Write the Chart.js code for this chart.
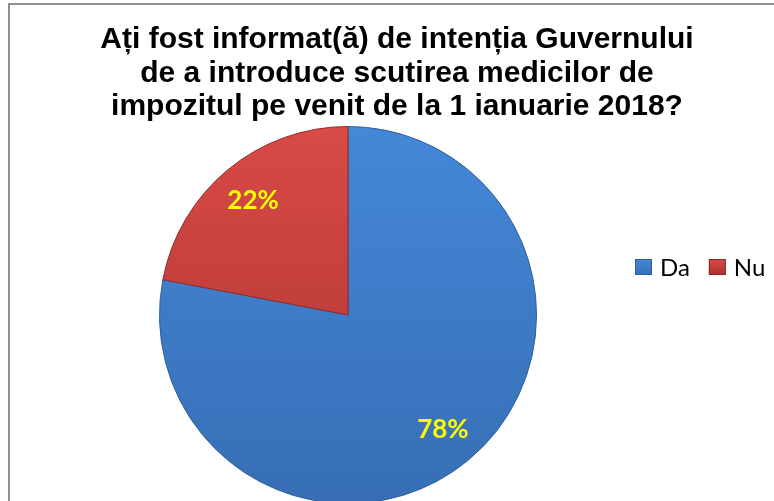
<!DOCTYPE html>
<html>
<head>
<meta charset="utf-8">
<script src="https://cdn.jsdelivr.net/npm/chart.js@4.4.1/dist/chart.umd.min.js"></script>
<style>
  html, body { margin: 0; padding: 0; width: 774px; height: 501px; overflow: hidden; background: #fff; }
  #frame { position: absolute; left: 8px; top: 3px; width: 780px; height: 520px;
           border-top: 2px solid #8e8e8e; border-left: 2px solid #8e8e8e; }
  #title { position: absolute; left: 20px; width: 754px; top: 21px; text-align: center;
           font-family: "Liberation Sans", Arial, sans-serif; font-weight: bold; font-size: 30px;
           line-height: 33.5px; color: #000; z-index: 2; }
  #wrap { position: absolute; left: 0; top: 0; width: 774px; height: 510px; }
</style>
</head>
<body>
<div id="frame"></div>
<div id="title"></div>
<div id="wrap"><canvas id="c" width="774" height="510"></canvas></div>
<script>
const titleLines = ["Ați fost informat(ă) de intenția Guvernului", "de a introduce scutirea medicilor de", "impozitul pe venit de la 1 ianuarie 2018?"];
const categories = ["Da", "Nu"];
const values = [78, 22];
const valueSuffix = "%";

const topColors = ["#4488d8", "#d94a46"];
const bottomColors = ["#376eb5", "#a8332f"];
const edgeColors = ["#2f5f9c", "#8f2a27"];

const titleEl = document.getElementById('title');
titleLines.forEach((t, i) => {
  if (i) titleEl.appendChild(document.createElement('br'));
  titleEl.appendChild(document.createTextNode(t));
});

function sliceFill(ctx) {
  const chart = ctx.chart;
  const area = chart.chartArea;
  if (!area) return topColors[ctx.dataIndex];
  const g = chart.ctx.createLinearGradient(0, area.top, 0, area.bottom);
  g.addColorStop(0, topColors[ctx.dataIndex]);
  g.addColorStop(1, bottomColors[ctx.dataIndex]);
  return g;
}

const labelPlugin = {
  id: 'sliceLabels',
  afterDatasetsDraw(chart) {
    const c = chart.ctx;
    const meta = chart.getDatasetMeta(0);
    c.save();
    c.font = "bold 26px Lato, 'Open Sans', sans-serif";
    c.fillStyle = "#ffff00";
    c.textAlign = "center";
    c.textBaseline = "middle";
    meta.data.forEach((arc, i) => {
      const p = arc.getProps(['x','y','startAngle','endAngle','outerRadius'], true);
      const mid = (p.startAngle + p.endAngle) / 2;
      const r = p.outerRadius * 0.79;
      c.fillText(values[i] + valueSuffix, p.x + Math.cos(mid) * r, p.y + Math.sin(mid) * r);
    });
    c.restore();
  }
};

const legendPlugin = {
  id: 'rowLegend',
  afterDraw(chart) {
    const c = chart.ctx;
    c.save();
    c.font = "24px Lato, 'Open Sans', sans-serif";
    c.textBaseline = "middle";
    let x = 635;
    const yc = 267, bw = 17, bh = 16;
    categories.forEach((lab, i) => {
      const g = c.createLinearGradient(0, yc - bh / 2, 0, yc + bh / 2);
      g.addColorStop(0, topColors[i]);
      g.addColorStop(1, bottomColors[i]);
      c.fillStyle = g;
      c.fillRect(x, yc - bh / 2, bw, bh);
      c.strokeStyle = edgeColors[i];
      c.lineWidth = 1;
      c.strokeRect(x + 0.5, yc - bh / 2 + 0.5, bw - 1, bh - 1);
      x += bw + 8;
      c.fillStyle = "#000";
      c.fillText(lab, x, yc + 1);
      x += c.measureText(lab).width + 19;
    });
    c.restore();
  }
};

new Chart(document.getElementById('c'), {
  type: 'pie',
  data: {
    labels: categories,
    datasets: [{
      data: values,
      backgroundColor: sliceFill,
      borderColor: edgeColors,
      borderWidth: 1
    }]
  },
  options: {
    responsive: false,
    animation: false,
    rotation: 0,
    layout: { padding: { top: 126, left: 159, right: 237, bottom: 6 } },
    plugins: {
      legend: { display: false },
      title: { display: false },
      tooltip: { enabled: false }
    }
  },
  plugins: [labelPlugin, legendPlugin]
});
</script>
</body>
</html>
